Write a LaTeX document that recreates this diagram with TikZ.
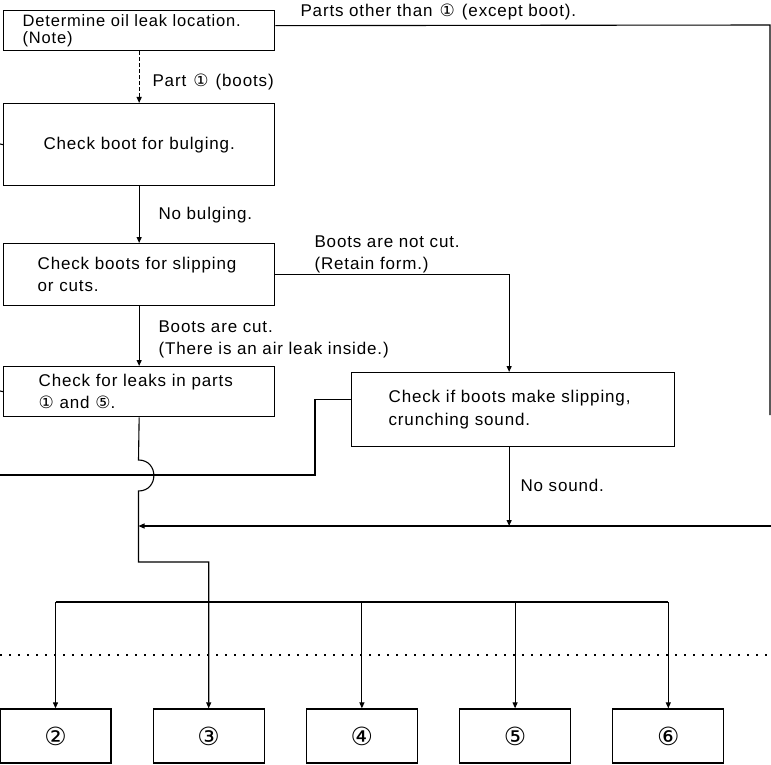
\documentclass[tikz,border=0pt]{standalone}
\usepackage{fontspec}
\setmainfont{Liberation Sans}[LetterSpace=5]
\newfontfamily\dejavu{DejaVu Sans}
\newcommand{\cnum}[1]{\hspace{1.5pt}{\dejavu #1}\hspace{1.5pt}}
\usetikzlibrary{arrows.meta, positioning, calc}

\begin{document}
\begin{tikzpicture}[x=1pt, y=-1pt, >={Triangle[length=6pt,width=5pt]}, line width=1.1pt,
    font=\fontsize{17}{22}\selectfont,
    box/.style={draw, line width=1.3pt, anchor=north west, inner sep=0pt, align=left},
    numbox/.style={draw, line width=1.3pt, minimum width=111pt, minimum height=54pt, inner sep=0pt, font=\dejavu\fontsize{25}{25}\selectfont},
    lbl/.style={anchor=west, inner sep=0pt, align=left}]
  \useasboundingbox (0,0) rectangle (771,765);
  % check boxes
  \node[box, minimum width=271pt, minimum height=40pt, text width=233pt, font=\fontsize{16.5}{17}\selectfont] (note) at (3,10) {Determine oil leak location.\\(Note)};
  \node[box, minimum width=271pt, minimum height=82pt, text width=233pt, align=center] (bulge) at (3,103) {Check boot for bulging.};
  \node[box, minimum width=271pt, minimum height=62pt, text width=203pt] (slip) at (3,243) {\mbox{Check boots for slipping}\\or cuts.};
  \node[box, minimum width=271pt, minimum height=50pt, text width=201pt] (leaks) at (3,366) {\mbox{Check for leaks in parts}\\{\dejavu ①} and {\dejavu ⑤}.};
  \node[box, minimum width=323pt, minimum height=74pt, text width=249pt, font=\fontsize{17}{23}\selectfont] (sound) at (351,372) {\mbox{Check if boots make slipping,}\\crunching sound.};
  % part boxes
  \foreach \i/\x/\t in {2/55.5/②, 3/208.7/③, 4/361.9/④, 5/515.1/⑤, 6/668.3/⑥}
    \node[numbox] (p\i) at (\x,736) {\t};
  % labels
  \node[lbl] (other) at (300,12) {Parts other than \cnum{①} (except boot).};
  \node[lbl] (part1) at (152,82) {Part \cnum{①} (boots)};
  \node[lbl] (nobulge) at (158,215) {No bulging.};
  \node[lbl] (notcut) at (314,254) {Boots are not cut.\\(Retain form.)};
  \node[lbl] (cut) at (158,339) {Boots are cut.\\(There is an air leak inside.)};
  \node[lbl] (nosound) at (520,485) {No sound.};
  % free ends and bends
  \coordinate (rtop) at (770,25);
  \coordinate (rend) at (770,415);
  \coordinate (redge) at (771,526);
  \coordinate (merge) at (138.5,526);
  \coordinate (ledge) at (0,475);
  \coordinate (jtop) at (138.5,460);
  \coordinate (jbot) at (138.5,491);
  \coordinate (jog) at (138.5,562);
  \coordinate (tree) at (0,602);
  \coordinate (tick1) at (0,144);
  \coordinate (tick2) at (0,391);
  \coordinate (dotL) at (0,655);
  \coordinate (dotR) at (771,655);
  % connectors
  \draw ([yshift=5pt]note.east) -- (rtop) -- (rend);
  \draw[->, dash pattern=on 4pt off 2pt] (note) -- (bulge);
  \draw[->] (bulge) -- (slip);
  \draw[->] (slip) -- (leaks);
  \draw[->] (slip.east) -| ([xshift=-4pt]sound.north);
  \draw[->] ([xshift=-4pt]sound.south) -- ([xshift=-4pt]sound.south |- merge);
  \draw[->] (redge) -- (merge);
  \draw ([yshift=10pt]sound.west) -- ++(-36,0) |- (ledge);
  \draw[->] (leaks.south) -- (jtop) .. controls (159,460) and (159,491) .. (jbot) -- (jog) -| (p3.north);
  \draw (p2.north |- tree) -- (p6.north |- tree);
  \foreach \i in {2,4,5,6}
    \draw[->] (p\i.north |- tree) -- (p\i);
  \draw (tick1) -- (bulge.west);
  \draw (tick2) -- (leaks.west);
  \draw[line width=1.5pt, dash pattern=on 1.5pt off 7.5pt] (dotL) -- (dotR);
\end{tikzpicture}
\end{document}
